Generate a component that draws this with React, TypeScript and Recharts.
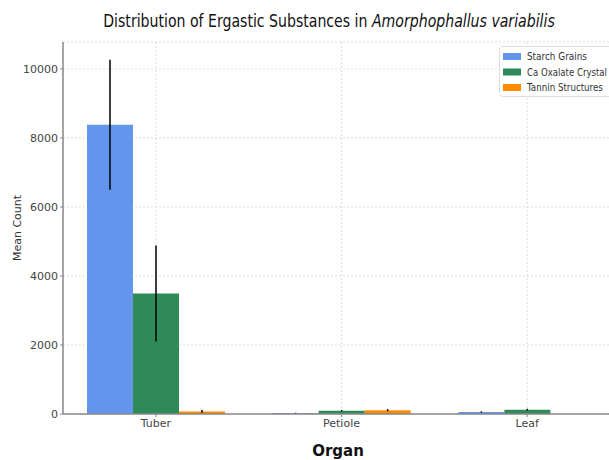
import { useLayoutEffect, useRef, useState } from 'react';
import { BarChart, Bar, XAxis, YAxis, CartesianGrid, ErrorBar } from 'recharts';

// organs on the x axis
const organs = ['Tuber', 'Petiole', 'Leaf'];

// mean counts and their error (sd) per substance
const starchMean = [8380, 25, 60];
const starchErr = [1885, 12, 18];
const oxalateMean = [3490, 95, 125];
const oxalateErr = [1390, 20, 25];
const tanninMean = [75, 110, 0];
const tanninErr = [40, 30, 0];

const yTicks = [0, 2000, 4000, 6000, 8000, 10000];

const SERIES = [
  { key: 'starch', name: 'Starch Grains', color: '#6495ED', textWidth: 60 },
  { key: 'oxalate', name: 'Ca Oxalate Crystal', color: '#2E8B57', textWidth: 80 },
  { key: 'tannin', name: 'Tannin Structures', color: '#FF8C00', textWidth: 76 },
];

const FONT = '"DejaVu Sans", sans-serif';

const chartData = organs.map((organ, i) => ({
  organ,
  starch: starchMean[i],
  starchErr: starchErr[i],
  oxalate: oxalateMean[i],
  oxalateErr: oxalateErr[i],
  tannin: tanninMean[i],
  tanninErr: tanninErr[i],
}));

// text squeezed horizontally to a given width (the reference uses a narrow face)
function FitText({ x, y, width, anchor = 'start', children, ...rest }: any) {
  const ref = useRef<SVGTextElement>(null);
  const [sx, setSx] = useState(1);
  useLayoutEffect(() => {
    if (!ref.current) return;
    const w = ref.current.getComputedTextLength();
    if (w > 0) setSx(width / w);
  }, [width]);
  return (
    <text ref={ref} x={0} y={0} textAnchor={anchor} transform={`translate(${x},${y}) scale(${sx},1)`} {...rest}>
      {children}
    </text>
  );
}

export default function App() {
  return (
    <div style={{ position: 'absolute', left: 0, top: 0, width: 609, height: 460, overflow: 'hidden', background: '#fff' }}>
      <BarChart
        width={622}
        height={460}
        data={chartData}
        margin={{ top: 42, right: 2, bottom: 16, left: 8 }}
        barGap={0}
      >
        <CartesianGrid stroke="#ddd" strokeDasharray="2 2" />
        <XAxis
          dataKey="organ"
          height={30}
          tick={{ fontSize: 11, fill: '#444', fontFamily: FONT }}
          tickLine={{ stroke: '#888' }}
          axisLine={{ stroke: '#888', strokeWidth: 1.5 }}
          tickSize={3}
        />
        <YAxis
          width={55}
          domain={[0, 10780]}
          ticks={yTicks}
          allowDataOverflow
          tick={{ fontSize: 11, fill: '#444', fontFamily: FONT }}
          tickLine={{ stroke: '#888' }}
          axisLine={{ stroke: '#888', strokeWidth: 1.5 }}
          tickSize={3}
        />
        {SERIES.map(s => (
          <Bar key={s.key} dataKey={s.key} name={s.name} fill={s.color} barSize={46} isAnimationActive={false}>
            <ErrorBar dataKey={`${s.key}Err`} width={0} stroke="#000" strokeWidth={1.5} />
          </Bar>
        ))}
      </BarChart>
      <svg width={609} height={460} style={{ position: 'absolute', left: 0, top: 0, pointerEvents: 'none' }}>
        <FitText x={329} y={27} width={452} anchor="middle" fontFamily={FONT} fontSize={18} fontWeight={500} fill="#111">
          Distribution of Ergastic Substances in <tspan fontStyle="italic">Amorphophallus variabilis</tspan>
        </FitText>
        <text x={338} y={456} textAnchor="middle" fontFamily={FONT} fontSize={15} fontWeight={600} fill="#111">
          Organ
        </text>
        <text
          x={0}
          y={0}
          transform="translate(21,228) rotate(-90)"
          textAnchor="middle"
          fontFamily={FONT}
          fontSize={11}
          fill="#333"
        >
          Mean Count
        </text>
        {/* legend */}
        <rect x={499.5} y={46.5} width={120} height={50} rx={3} fill="rgba(255,255,255,0.9)" stroke="#ddd" />
        {SERIES.map((s, i) => (
          <g key={s.key}>
            <rect x={503} y={53 + i * 15.5} width={18} height={7} fill={s.color} />
            <FitText x={527} y={60 + i * 15.5} width={s.textWidth} fontFamily={FONT} fontSize={10} fill="#333">
              {s.name}
            </FitText>
          </g>
        ))}
      </svg>
    </div>
  );
}
